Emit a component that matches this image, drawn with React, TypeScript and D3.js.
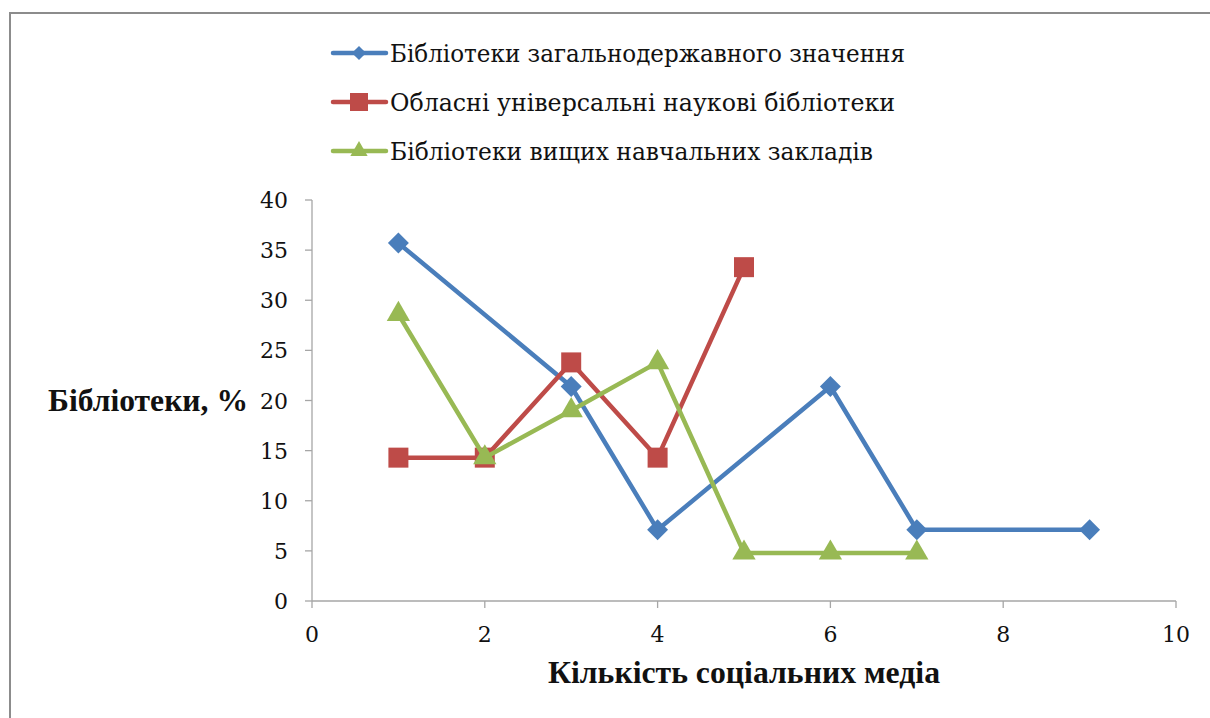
import React from "react";
import * as d3 from "d3";

const seriesNames = [
  "Бібліотеки загальнодержавного значення",
  "Обласні універсальні наукові бібліотеки",
  "Бібліотеки вищих навчальних закладів",
];
const blueX = [1, 3, 4, 6, 7, 9];
const blueY = [35.7, 21.4, 7.1, 21.4, 7.1, 7.1];
const redX = [1, 2, 3, 4, 5];
const redY = [14.3, 14.3, 23.8, 14.3, 33.3];
const greenX = [1, 2, 3, 4, 5, 6, 7];
const greenY = [28.6, 14.3, 19.0, 23.8, 4.8, 4.8, 4.8];
const xTicks = [0, 2, 4, 6, 8, 10];
const yTicks = [0, 5, 10, 15, 20, 25, 30, 35, 40];
const colors = ["#4A7EBB", "#BE4B48", "#98B954"];
const markers = ["diamond", "square", "triangle"];
const legendWidths = [515, 505, 483];

const W = 1210;
const H = 718;
const FONT = "Liberation Serif";
const REG = "DejaVu Serif";
const AXIS = "#a6a6a6";

const x = d3.scaleLinear().domain([0, 10]).range([312, 1176]);
const y = d3.scaleLinear().domain([0, 40]).range([601, 200]);
const line = d3.line<[number, number]>().x(d => x(d[0])).y(d => y(d[1]));

// marker areas: plot / legend
const plotSize: Record<string, number> = { diamond: 220, square: 400, triangle: 235 };
const legendSize: Record<string, number> = { diamond: 100, square: 324, triangle: 130 };

const sym = (m: string, s: number) => {
  const t = m === "triangle" ? d3.symbolTriangle : d3.symbolSquare;
  return d3.symbol().type(t).size(s)() || "";
};
const rot = (m: string) => (m === "diamond" ? " rotate(45)" : "");

const series = [
  { xs: blueX, ys: blueY },
  { xs: redX, ys: redY },
  { xs: greenX, ys: greenY },
];

const App = () => {
  return (
    <svg width={W} height={H}
      style={{ position: "absolute", left: 0, top: 0, background: "white" }}>
      {/* chart frame */}
      <rect x={10} y={13} width={W + 20} height={H + 20}
        fill="white" stroke="#8c8c8c" strokeWidth={2} />

      {/* legend */}
      {seriesNames.map((n, i) => {
        const ly = 53 + i * 49;
        return (
          <g key={"l" + i}>
            <line x1={333} x2={386} y1={ly} y2={ly} stroke={colors[i]}
              strokeWidth={4.5} strokeLinecap="round" />
            <path d={sym(markers[i], legendSize[markers[i]])} fill={colors[i]}
              transform={`translate(359,${ly})${rot(markers[i])}`} />
            <text x={390} y={ly + 9} fontFamily={REG} fontSize={25} fill="#111"
              textLength={legendWidths[i]} lengthAdjust="spacingAndGlyphs">{n}</text>
          </g>
        );
      })}

      {/* y axis */}
      <line x1={x(0)} x2={x(0)} y1={y(40)} y2={y(0)} stroke={AXIS} strokeWidth={1.3} />
      {yTicks.map(t => (
        <g key={"y" + t}>
          <line x1={x(0) - 7} x2={x(0)} y1={y(t)} y2={y(t)} stroke={AXIS} strokeWidth={1.3} />
          <text x={x(0) - 24} y={y(t) + 8} textAnchor="end"
            fontFamily={REG} fontSize={22} fill="#111">{t}</text>
        </g>
      ))}

      {/* x axis */}
      <line x1={x(0)} x2={x(10)} y1={y(0)} y2={y(0)} stroke={AXIS} strokeWidth={1.3} />
      {xTicks.map(t => (
        <g key={"x" + t}>
          <line x1={x(t)} x2={x(t)} y1={y(0)} y2={y(0) + 7} stroke={AXIS} strokeWidth={1.3} />
          <text x={x(t)} y={y(0) + 41} textAnchor="middle"
            fontFamily={REG} fontSize={22} fill="#111">{t}</text>
        </g>
      ))}

      {/* series */}
      {series.map((s, i) => {
        const pts: [number, number][] = s.xs.map((v, k) => [v, s.ys[k]]);
        return (
          <g key={"s" + i}>
            <path d={line(pts) || ""} fill="none" stroke={colors[i]}
              strokeWidth={4.5} strokeLinejoin="round" />
            {pts.map((p, k) => (
              <path key={k} d={sym(markers[i], plotSize[markers[i]])} fill={colors[i]}
                transform={`translate(${x(p[0])},${y(p[1])})${rot(markers[i])}`} />
            ))}
          </g>
        );
      })}

      {/* axis titles */}
      <text x={48} y={411} fontFamily={FONT} fontSize={31} fontWeight="bold" fill="#111"
        textLength={200} lengthAdjust="spacingAndGlyphs">Бібліотеки,  %</text>
      <text x={548} y={683} fontFamily={FONT} fontSize={32} fontWeight="bold" fill="#111"
        textLength={392} lengthAdjust="spacingAndGlyphs">Кількість  соціальних  медіа</text>
    </svg>
  );
};

export default App;
